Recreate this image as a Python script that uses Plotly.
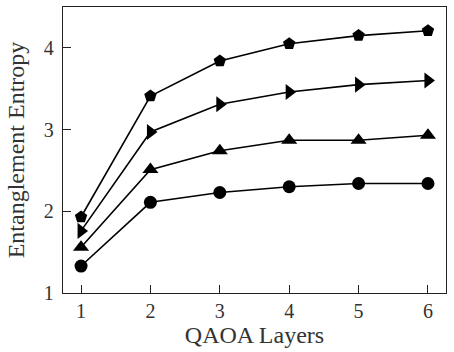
import plotly.graph_objects as go

# datos
capas = [1, 2, 3, 4, 5, 6]
ent_pentagono = [1.93, 3.41, 3.84, 4.05, 4.15, 4.21]
ent_triang_der = [1.76, 2.97, 3.31, 3.46, 3.55, 3.60]
ent_triang_arr = [1.56, 2.51, 2.74, 2.87, 2.87, 2.93]
ent_circulo = [1.33, 2.11, 2.23, 2.30, 2.34, 2.34]

series = [
    (ent_circulo, 'circle', 13),
    (ent_triang_arr, 'triangle-up', 14),
    (ent_triang_der, 'triangle-right', 14),
    (ent_pentagono, 'pentagon', 13),
]

fig = go.Figure()
for vals, simbolo, tam in series:
    fig.add_trace(go.Scatter(
        x=capas, y=vals, mode='lines+markers',
        line=dict(color='black', width=1.6),
        marker=dict(symbol=simbolo, size=tam, color='black'),
        showlegend=False
    ))

fuente = dict(family='Liberation Serif, DejaVu Serif, serif', size=20, color='#333')

fig.update_layout(
    width=454, height=352,
    margin=dict(l=63, r=8, t=7, b=59),
    plot_bgcolor='white', paper_bgcolor='white',
    font=fuente,
    xaxis=dict(
        range=[0.74, 6.26], tickvals=capas, ticks='inside', ticklen=8,
        tickcolor='#222', showgrid=False, zeroline=False,
        showline=True, linecolor='#222', linewidth=1.3, mirror=True,
        title=dict(text='QAOA Layers', standoff=0),
        ticklabelstandoff=0
    ),
    yaxis=dict(
        range=[1, 4.5], tickvals=[1, 2, 3, 4], ticks='inside', ticklen=8,
        tickcolor='#222', showgrid=False, zeroline=False,
        showline=True, linecolor='#222', linewidth=1.3, mirror=True,
        title=dict(text='Entanglement Entropy', standoff=12),
        ticklabelstandoff=4
    ),
)

# quitar el margen del body para que la figura quede en (0,0)
fig.write_html("out.html", config={'displayModeBar': False},
               post_script="document.body.style.margin='0';")
